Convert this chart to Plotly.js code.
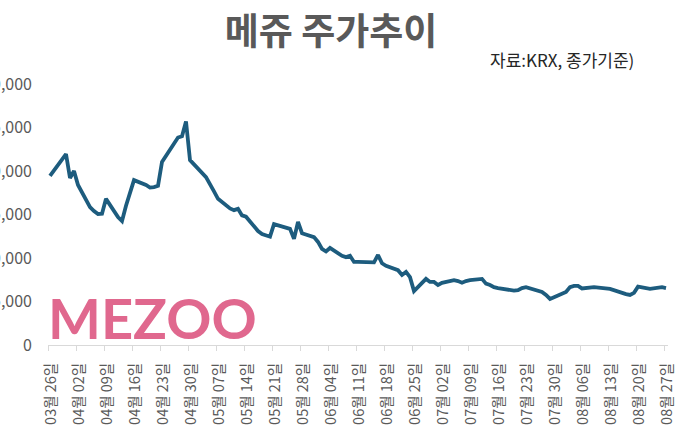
<!DOCTYPE html>
<html>
<head>
<meta charset="utf-8">
<script src="https://cdn.plot.ly/plotly-3.0.1.min.js"></script>
<style>
html,body{margin:0;padding:0;background:#fff;}
#chart{width:686px;height:440px;}
</style>
</head>
<body>
<div id="chart"></div>
<script>
// Trading days (KRX), 2021
const tradeDates = [
"2021-03-26","2021-03-29","2021-03-30","2021-03-31","2021-04-01","2021-04-02",
"2021-04-05","2021-04-06","2021-04-07","2021-04-08","2021-04-09",
"2021-04-12","2021-04-13","2021-04-14","2021-04-15","2021-04-16",
"2021-04-19","2021-04-20","2021-04-21","2021-04-22","2021-04-23",
"2021-04-26","2021-04-27","2021-04-28","2021-04-29","2021-04-30",
"2021-05-03","2021-05-04","2021-05-06","2021-05-07",
"2021-05-10","2021-05-11","2021-05-12","2021-05-13","2021-05-14",
"2021-05-17","2021-05-18","2021-05-20","2021-05-21",
"2021-05-24","2021-05-25","2021-05-26","2021-05-27","2021-05-28",
"2021-05-31","2021-06-01","2021-06-02","2021-06-03","2021-06-04",
"2021-06-07","2021-06-08","2021-06-09","2021-06-10","2021-06-11",
"2021-06-14","2021-06-15","2021-06-16","2021-06-17","2021-06-18",
"2021-06-21","2021-06-22","2021-06-23","2021-06-24","2021-06-25",
"2021-06-28","2021-06-29","2021-06-30","2021-07-01","2021-07-02",
"2021-07-05","2021-07-06","2021-07-07","2021-07-08","2021-07-09",
"2021-07-12","2021-07-13","2021-07-14","2021-07-15","2021-07-16",
"2021-07-19","2021-07-20","2021-07-21","2021-07-22","2021-07-23",
"2021-07-26","2021-07-27","2021-07-28","2021-07-29","2021-07-30",
"2021-08-02","2021-08-03","2021-08-04","2021-08-05","2021-08-06",
"2021-08-09","2021-08-10","2021-08-11","2021-08-12","2021-08-13",
"2021-08-17","2021-08-18","2021-08-19","2021-08-20",
"2021-08-23","2021-08-24","2021-08-25","2021-08-26","2021-08-27"
];

// Closing prices (KRW)
const closePrices = [
19450,21450,21950,19200,20000,18400,
15850,15400,15050,15100,16800,
14700,14250,16000,17450,18950,
18400,18100,18150,18300,21050,
23200,23850,24000,25700,21250,
19850,19300,17650,16800,
15700,15500,15650,14900,14750,
13100,12750,12450,13900,
13550,13350,12200,14150,12850,
12400,11850,11050,10750,11150,
10250,10100,10250,9550,9550,
9550,9500,10350,9400,9100,
8600,8050,8400,7800,6200,
7600,7250,7250,6900,7150,
7450,7350,7150,7350,7450,
7600,7050,6900,6650,6550,
6250,6250,6300,6550,6650,
6300,6100,5750,5300,5500,
6100,6650,6800,6800,6500,
6650,6600,6450,6400,6450,
5850,5750,6000,6700,
6450,6500,6500,6650,6550
];

// Weekly tick dates and their labels
const tickDates = [
"2021-03-26","2021-04-02","2021-04-09","2021-04-16","2021-04-23","2021-04-30",
"2021-05-07","2021-05-14","2021-05-21","2021-05-28","2021-06-04","2021-06-11",
"2021-06-18","2021-06-25","2021-07-02","2021-07-09","2021-07-16","2021-07-23",
"2021-07-30","2021-08-06","2021-08-13","2021-08-20","2021-08-27"
];
const tickLabels = [
"03월 26일","04월 02일","04월 09일","04월 16일","04월 23일","04월 30일",
"05월 07일","05월 14일","05월 21일","05월 28일","06월 04일","06월 11일",
"06월 18일","06월 25일","07월 02일","07월 09일","07월 16일","07월 23일",
"07월 30일","08월 06일","08월 13일","08월 20일","08월 27일"
];
const yTicks = [0,5000,10000,15000,20000,25000,30000];

const titleText = "메쥬 주가추이";
const sourceText = "자료:KRX, 종가기준)";
const logoText = "MEZOO";

const trace = {
  type: "scatter",
  mode: "lines",
  x: tradeDates.map(d => d + " 12:00"),
  y: closePrices,
  line: {color: "#1d5c7e", width: 3.8, shape: "linear"},
  hoverinfo: "x+y"
};

const layout = {
  width: 686,
  height: 440,
  margin: {l: 48, r: 18, t: 84, b: 95, pad: 0},
  paper_bgcolor: "#ffffff",
  plot_bgcolor: "#ffffff",
  showlegend: false,
  font: {family: "Noto Sans CJK KR, Noto Sans, sans-serif", color: "#595959"},
  title: {
    text: "<b>" + titleText + "</b>",
    font: {family: "Noto Sans CJK KR", size: 37, color: "#595959"},
    x: 331/686, xanchor: "center", xref: "container",
    y: 1 - 32/440, yanchor: "middle", yref: "container"
  },
  xaxis: {
    type: "date",
    range: ["2021-03-26 00:00", "2021-08-28 00:00"],
    tickmode: "array",
    tickvals: tickDates,
    ticktext: tickLabels,
    tickangle: -90,
    ticks: "outside",
    ticklen: 5,
    tickcolor: "#d9d9d9",
    tickwidth: 1,
    showline: true,
    linecolor: "#d9d9d9",
    linewidth: 1,
    showgrid: false,
    zeroline: false,
    tickfont: {family: "Noto Sans CJK KR", size: 14.5, color: "#595959"},
    ticklabelshift: 3,
    ticklabelstandoff: 6,
    fixedrange: true
  },
  yaxis: {
    range: [0, 30000],
    tickmode: "array",
    tickvals: yTicks,
    tickformat: ",d",
    showgrid: false,
    zeroline: false,
    showline: false,
    ticks: "",
    ticklabelstandoff: 15,
    tickfont: {family: "Noto Sans CJK KR", size: 16, color: "#595959"},
    fixedrange: true
  },
  annotations: [
    {
      text: sourceText,
      xref: "paper", yref: "paper",
      x: (488 - 48) / 620, xanchor: "left",
      y: (345 - 59) / 261, yanchor: "middle",
      showarrow: false,
      font: {family: "Noto Sans CJK KR", size: 17, color: "#262626"}
    },
    {
      text: "<b>" + logoText + "</b>",
      xref: "paper", yref: "paper",
      x: (46 - 48) / 620, xanchor: "left",
      y: (345 - 317) / 261, yanchor: "middle",
      showarrow: false,
      font: {family: "Lato, Liberation Sans, sans-serif", size: 56, color: "#e0688e"}
    }
  ]
};

Plotly.newPlot("chart", [trace], layout, {displayModeBar: false, staticPlot: true});
</script>
</body>
</html>
